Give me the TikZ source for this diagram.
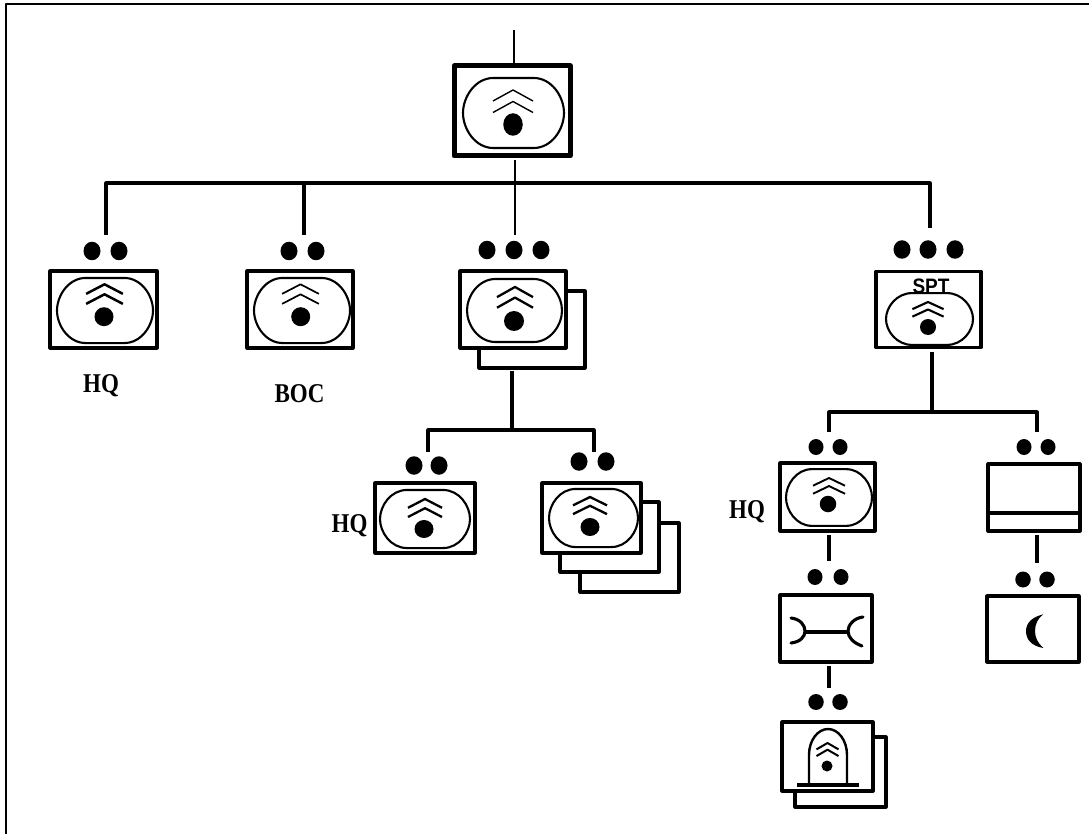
\documentclass[tikz,border=0pt]{standalone}
\usepackage{fontspec}
\setmainfont{Liberation Serif}
\setsansfont{Liberation Sans}
\usetikzlibrary{shapes.geometric}
\newcommand{\tagtext}[1]{\scalebox{1}[1.18]{#1}}
\tikzset{
  capmark/.pic={
    \draw[line width=2.1pt] (-50,0) .. controls (-50,-16) and (-38,-35) .. (-20,-35) -- (20,-35)
      .. controls (38,-35) and (50,-16) .. (50,0)
      .. controls (50,16) and (38,35) .. (20,35) -- (-20,35)
      .. controls (-38,35) and (-50,16) .. cycle;
  },
  chevmark/.pic={
    \draw (-20,11) -- (0,0) -- (20,11);
    \draw (-20,22.5) -- (0,11.5) -- (20,22.5);
  }
}

\begin{document}
\begin{tikzpicture}[
  x=1pt,y=-1pt,
  line join=round,
  unitbox/.style={draw,fill=white,line width=3.1pt,inner sep=0pt,outer sep=0pt},
  pip/.style={ellipse,fill=black,inner sep=0pt,minimum width=17pt,minimum height=18.5pt},
  eye/.style={ellipse,fill=black,inner sep=0pt},
  link/.style={line width=3.1pt},
  lab/.style={font=\fontsize{23}{23}\selectfont\bfseries,inner sep=0pt}
]
\useasboundingbox (0,0) rectangle (1089,834);

% frame
\coordinate (fa) at (1089,4);
\coordinate (fb) at (6,4);
\coordinate (fc) at (6,834);
\draw[line width=2.4pt] (fa) -- (fb) -- (fc);

% top unit
\coordinate (in) at (514,30);
\node[unitbox,line width=5pt,minimum width=116pt,minimum height=90pt] (top) at (512,111) {};
\pic[xscale=1.01] at (513.5,113) {capmark};
\pic[line width=1.4pt] at (513,90) {chevmark};
\node[eye,minimum width=19.5pt,minimum height=22.5pt] (eye0) at (513,124.5) {};
\draw[line width=2.4pt] (in) -- (top.north -| in);

% first row
\coordinate (ja) at (106,183);
\coordinate (jb) at (304,183);
\coordinate (jc) at (515,183);
\coordinate (jd) at (930,183);
\coordinate (ea) at (106,235);
\coordinate (eb) at (304,235);
\coordinate (ec) at (515,235);
\coordinate (ed) at (930,228);
\draw[link] (ea) |- (jb);
\draw[link] (jb) -- (jd) -- (ed);
\draw[link] (eb) -- (jb);
\draw[line width=2.4pt] (ec) -- (jc);
\draw[line width=2.4pt,shorten <=4pt] (top.south -| jc) -- (jc);

\node[pip] (a1) at (92,251) {};
\node[pip] (a2) at (119,251) {};
\node[unitbox,minimum width=107pt,minimum height=77pt] (hqa) at (103.5,309.5) {};
\pic[xscale=.96,yscale=.93] at (105,310.5) {capmark};
\pic[line width=2.5pt,xscale=.92,yscale=.87] at (104.5,284.3) {chevmark};
\node[eye,minimum size=19pt] (eye1) at (104,316.7) {};
\node[lab] (hqlab1) at (101,386) {\tagtext{HQ}};

\node[pip] (b1) at (289,251) {};
\node[pip] (b2) at (316,251) {};
\node[unitbox,minimum width=106pt,minimum height=77pt] (boc) at (300,309.5) {};
\pic[xscale=.96,yscale=.93] at (302,310.5) {capmark};
\pic[line width=1.7pt,xscale=.92,yscale=.87] at (300.5,284.3) {chevmark};
\node[eye,minimum size=19pt] (eye2) at (300.7,316.7) {};
\node[lab] (boclab) at (299.5,394) {\tagtext{BOC}};

\node[pip] (c1) at (487,250) {};
\node[pip] (c2) at (514,250) {};
\node[pip] (c3) at (541,250) {};
\node[unitbox,minimum width=106pt,minimum height=77pt] (cback) at (532,329.5) {};
\node[unitbox,minimum width=106pt,minimum height=77pt] (cfront) at (513,309.5) {};
\pic[xscale=.95,yscale=.9] at (514.5,310.5) {capmark};
\pic[line width=2.3pt,xscale=.9,yscale=.92] at (515,287) {chevmark};
\node[eye,minimum size=20pt] (eye3) at (514,321) {};

\node[pip] (d1) at (902,249.5) {};
\node[pip] (d2) at (928,249.5) {};
\node[pip] (d3) at (955,249.5) {};
\node[unitbox,minimum width=105pt,minimum height=76pt] (spt) at (928.5,309.5) {};
\pic[xscale=.87,yscale=.74] at (929.5,319) {capmark};
\pic[line width=2.1pt,xscale=.78,yscale=.65] at (928,302) {chevmark};
\node[eye,minimum size=16pt] (eye4) at (928,327) {};
\node[font=\sffamily\bfseries\fontsize{19}{19}\selectfont,inner sep=0pt] (sptlab) at (931,286) {\scalebox{1}[1.1]{SPT}};

% branch below the third unit
\coordinate (ka) at (428,430);
\coordinate (kb) at (512,430);
\coordinate (kc) at (594,430);
\coordinate (ma) at (428,451.5);
\coordinate (mc) at (594,451.5);
\draw[link] (ma) |- (kb) -| (mc);
\draw[link,shorten <=3pt] (cback.south -| kb) -- (kb);

\node[pip] (e1) at (414,465.5) {};
\node[pip] (e2) at (439,465.5) {};
\node[unitbox,minimum width=100pt,minimum height=70pt] (hqb) at (425,518) {};
\pic[xscale=.9,yscale=.83] at (425,519) {capmark};
\pic[line width=2.3pt,xscale=.85,yscale=.8] at (425,499) {chevmark};
\node[eye,minimum width=19pt,minimum height=18pt] (eye5) at (424,529) {};
\node[lab] (hqlab2) at (349.5,526) {\tagtext{HQ}};

\node[pip] (f1) at (579,461.5) {};
\node[pip] (f2) at (606,461.5) {};
\node[unitbox,minimum width=99pt,minimum height=69pt] (fback2) at (629.5,557.5) {};
\node[unitbox,minimum width=99pt,minimum height=70pt] (fback1) at (609.5,537) {};
\node[unitbox,minimum width=99pt,minimum height=70pt] (ffront) at (591.5,518) {};
\pic[xscale=.89,yscale=.83] at (593.5,518) {capmark};
\pic[line width=2.3pt,xscale=.85,yscale=.76] at (590,497) {chevmark};
\node[eye,minimum width=19pt,minimum height=18pt] (eye6) at (590,527) {};

% branch below the fourth unit
\coordinate (na) at (829,412);
\coordinate (nb) at (932,412);
\coordinate (nc) at (1037,412);
\coordinate (oa) at (829,432);
\coordinate (oc) at (1037,432);
\draw[link] (oa) |- (nb) -| (oc);
\draw[link,shorten <=4pt] (spt.south -| nb) -- (nb);

\node[pip,minimum width=15pt,minimum height=16pt] (g1) at (816,447) {};
\node[pip,minimum width=15pt,minimum height=16pt] (g2) at (840,447) {};
\node[unitbox,minimum width=95pt,minimum height=68pt] (hqc) at (827.5,497) {};
\pic[xscale=.86,yscale=.81] at (829,497.5) {capmark};
\pic[line width=1.9pt,xscale=.8,yscale=.7] at (829,478) {chevmark};
\node[eye,minimum size=16.5pt] (eye7) at (828,504) {};
\node[lab] (hqlab3) at (747,512) {\tagtext{HQ}};

\node[pip,minimum width=15pt,minimum height=16pt] (h1) at (1024,447) {};
\node[pip,minimum width=15pt,minimum height=16pt] (h2) at (1048,447) {};
\node[unitbox,minimum width=92pt,minimum height=67pt] (bar) at (1034,497.5) {};
\coordinate (barl) at (988,513);
\coordinate (barr) at (1082,513);
\draw[link] (barl) -- (barr);

\coordinate (qa) at (829,561);
\coordinate (qb) at (1037,563);
\draw[link,shorten <=4pt] (hqc.south -| qa) -- (qa);
\draw[link,shorten <=4pt] (bar.south -| qb) -- (qb);

\node[pip,minimum width=15pt,minimum height=16pt] (i1) at (815,577) {};
\node[pip,minimum width=15pt,minimum height=16pt] (i2) at (841,577) {};
\node[unitbox,minimum width=92pt,minimum height=67pt] (bridge) at (826,628.5) {};
\draw[line width=3.1pt,line cap=round] (791,618) .. controls (800,619) and (805,625) .. (805,631)
  .. controls (805,637) and (800,642) .. (791,643);
\draw[line width=3.1pt,line cap=round] (863,617) .. controls (854,618) and (848,625) .. (848,631)
  .. controls (848,638) and (854,643) .. (862,646);
\draw[line width=3.1pt] (805,632) -- (848,632);

\node[pip,minimum width=15.5pt,minimum height=16pt] (k1) at (1023,579.5) {};
\node[pip,minimum width=15.5pt,minimum height=16pt] (k2) at (1047,579.5) {};
\node[unitbox,minimum width=92pt,minimum height=66pt] (moon) at (1033,629) {};
\fill (1043.3,614.3) .. controls (1032,617) and (1026,623) .. (1026,631)
  .. controls (1026,640) and (1032,646) .. (1043.3,648)
  .. controls (1038,643) and (1035,638) .. (1035,631)
  .. controls (1035,624) and (1038,618) .. cycle;

\coordinate (ra) at (829,688);
\draw[link,shorten <=4pt] (bridge.south -| ra) -- (ra);

\node[pip,minimum width=15.5pt,minimum height=16pt] (l1) at (816,702) {};
\node[pip,minimum width=15.5pt,minimum height=16pt] (l2) at (840,702) {};
\node[unitbox,minimum width=91pt,minimum height=70pt] (gateback) at (840.5,772) {};
\node[unitbox,minimum width=91pt,minimum height=69pt] (gate) at (827.5,756.5) {};
\draw[line width=2.4pt] (809,785) -- (809,755) .. controls (809,740) and (818,729) .. (828,729)
  .. controls (838,729) and (847,740) .. (847,755) -- (847,785);
\draw[line width=3.4pt] (797,785) -- (859,785);
\pic[line width=2pt,xscale=.55,yscale=.58] at (827.5,743) {chevmark};
\node[eye,minimum size=11pt] (eye8) at (827,766) {};
\end{tikzpicture}
\end{document}
